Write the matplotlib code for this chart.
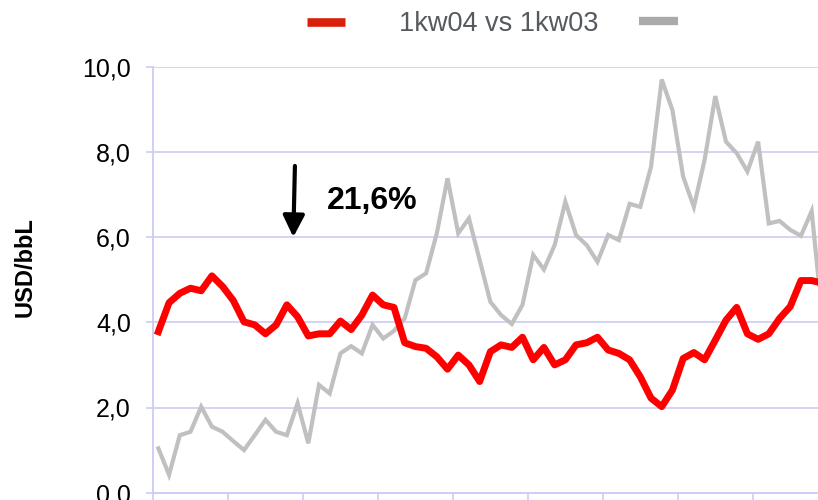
import matplotlib
matplotlib.use("Agg")
import matplotlib.pyplot as plt
from matplotlib.lines import Line2D
from matplotlib.ticker import FuncFormatter

plt.rcParams['font.family'] = ['Liberation Sans', 'DejaVu Sans']

red_series = [3.78, 4.46, 4.68, 4.80, 4.74, 5.09, 4.84, 4.51, 4.01, 3.94,
              3.73, 3.94, 4.41, 4.13, 3.68, 3.73, 3.73, 4.03, 3.83, 4.17,
              4.64, 4.41, 4.35, 3.52, 3.43, 3.39, 3.19, 2.90, 3.23, 3.00,
              2.61, 3.31, 3.47, 3.41, 3.65, 3.12, 3.41, 3.00, 3.12, 3.47,
              3.52, 3.65, 3.35, 3.27, 3.12, 2.72, 2.22, 2.02, 2.41, 3.15,
              3.29, 3.12, 3.58, 4.05, 4.35, 3.73, 3.60, 3.73, 4.09, 4.37,
              4.98, 4.98, 4.92]
grey_series = [1.04, 0.42, 1.35, 1.43, 2.02, 1.55, 1.43, 1.21, 1.00, 1.35,
               1.71, 1.43, 1.35, 2.10, 1.16, 2.53, 2.33, 3.27, 3.44, 3.27,
               3.94, 3.62, 3.80, 4.09, 4.99, 5.15, 6.09, 7.38, 6.09, 6.44,
               5.46, 4.48, 4.17, 3.96, 4.41, 5.58, 5.24, 5.81, 6.83, 6.05,
               5.81, 5.42, 6.05, 5.93, 6.78, 6.71, 7.65, 9.70, 8.98, 7.42,
               6.71, 7.81, 9.31, 8.24, 7.97, 7.54, 8.24, 6.32, 6.38, 6.17,
               6.03, 6.61, 4.1]
y_ticks = [0, 2, 4, 6, 8, 10]
legend_label = "1kw04 vs 1kw03"
y_label = "USD/bbL"
annotation = "21,6%"

W, H = 818, 500
fig = plt.figure(figsize=(W / 100, H / 100), dpi=100)

n_cat = 70
px_per = 10.71
left = 153 / W
width = n_cat * px_per / W
bottom = (H - 492.7) / H
height = (492.7 - 66.7) / H
ax = fig.add_axes([left, bottom, width, height])

grid_col = '#ccccf5'
x = list(range(len(red_series)))
ax.plot(x, grey_series, color='#c0c0c0', lw=3.0, solid_joinstyle='miter', zorder=3)
ax.plot(x, red_series, color='#ff0000', lw=5.0, solid_joinstyle='round', zorder=4)

ax.set_xlim(-0.5, n_cat - 0.5)
ax.set_ylim(0, 10)
ax.set_yticks(y_ticks)
ax.yaxis.set_major_formatter(FuncFormatter(lambda v, p: f"{v:.1f}".replace('.', ',')))
ax.set_xticks([i * 7 - 0.5 for i in range(11)])
ax.set_xticklabels([])
ax.grid(axis='y', color=grid_col, lw=1.2)
ax.set_axisbelow(True)
for s in ['top', 'right']:
    ax.spines[s].set_visible(False)
for s in ['left', 'bottom']:
    ax.spines[s].set_color(grid_col)
    ax.spines[s].set_linewidth(1.3)
ax.tick_params(axis='y', colors=grid_col, labelcolor='black', labelsize=18,
               length=5, width=1.2, pad=11)
ax.tick_params(axis='x', colors=grid_col, length=8, width=1.2)

fig.text(25 / W, 1 - 267 / H, y_label, rotation=90, fontsize=17,
         fontweight='bold', ha='center', va='center')

ax.annotate('', xy=(12.6, 6.0), xytext=(12.75, 7.67),
            arrowprops=dict(arrowstyle='-|>,head_width=0.65,head_length=1.3',
                            lw=3, color='black', shrinkA=0, shrinkB=0,
                            mutation_scale=10))
ax.text(20.0, 6.85, annotation, fontsize=23, fontweight='bold',
        ha='center', va='center')

fig.add_artist(Line2D([306.5 / W, 344.6 / W], [1 - 21.6 / H] * 2,
                      color='#d8200a', lw=6.2, solid_capstyle='butt'))
fig.add_artist(Line2D([639 / W, 678 / W], [1 - 21.3 / H] * 2,
                      color='#aaaaaa', lw=6.0, solid_capstyle='butt'))
fig.text(498.5 / W, 1 - 24 / H, legend_label, fontsize=19.5, color='#555a5f',
         ha='center', va='center')

fig.savefig('out.png', dpi=100)
